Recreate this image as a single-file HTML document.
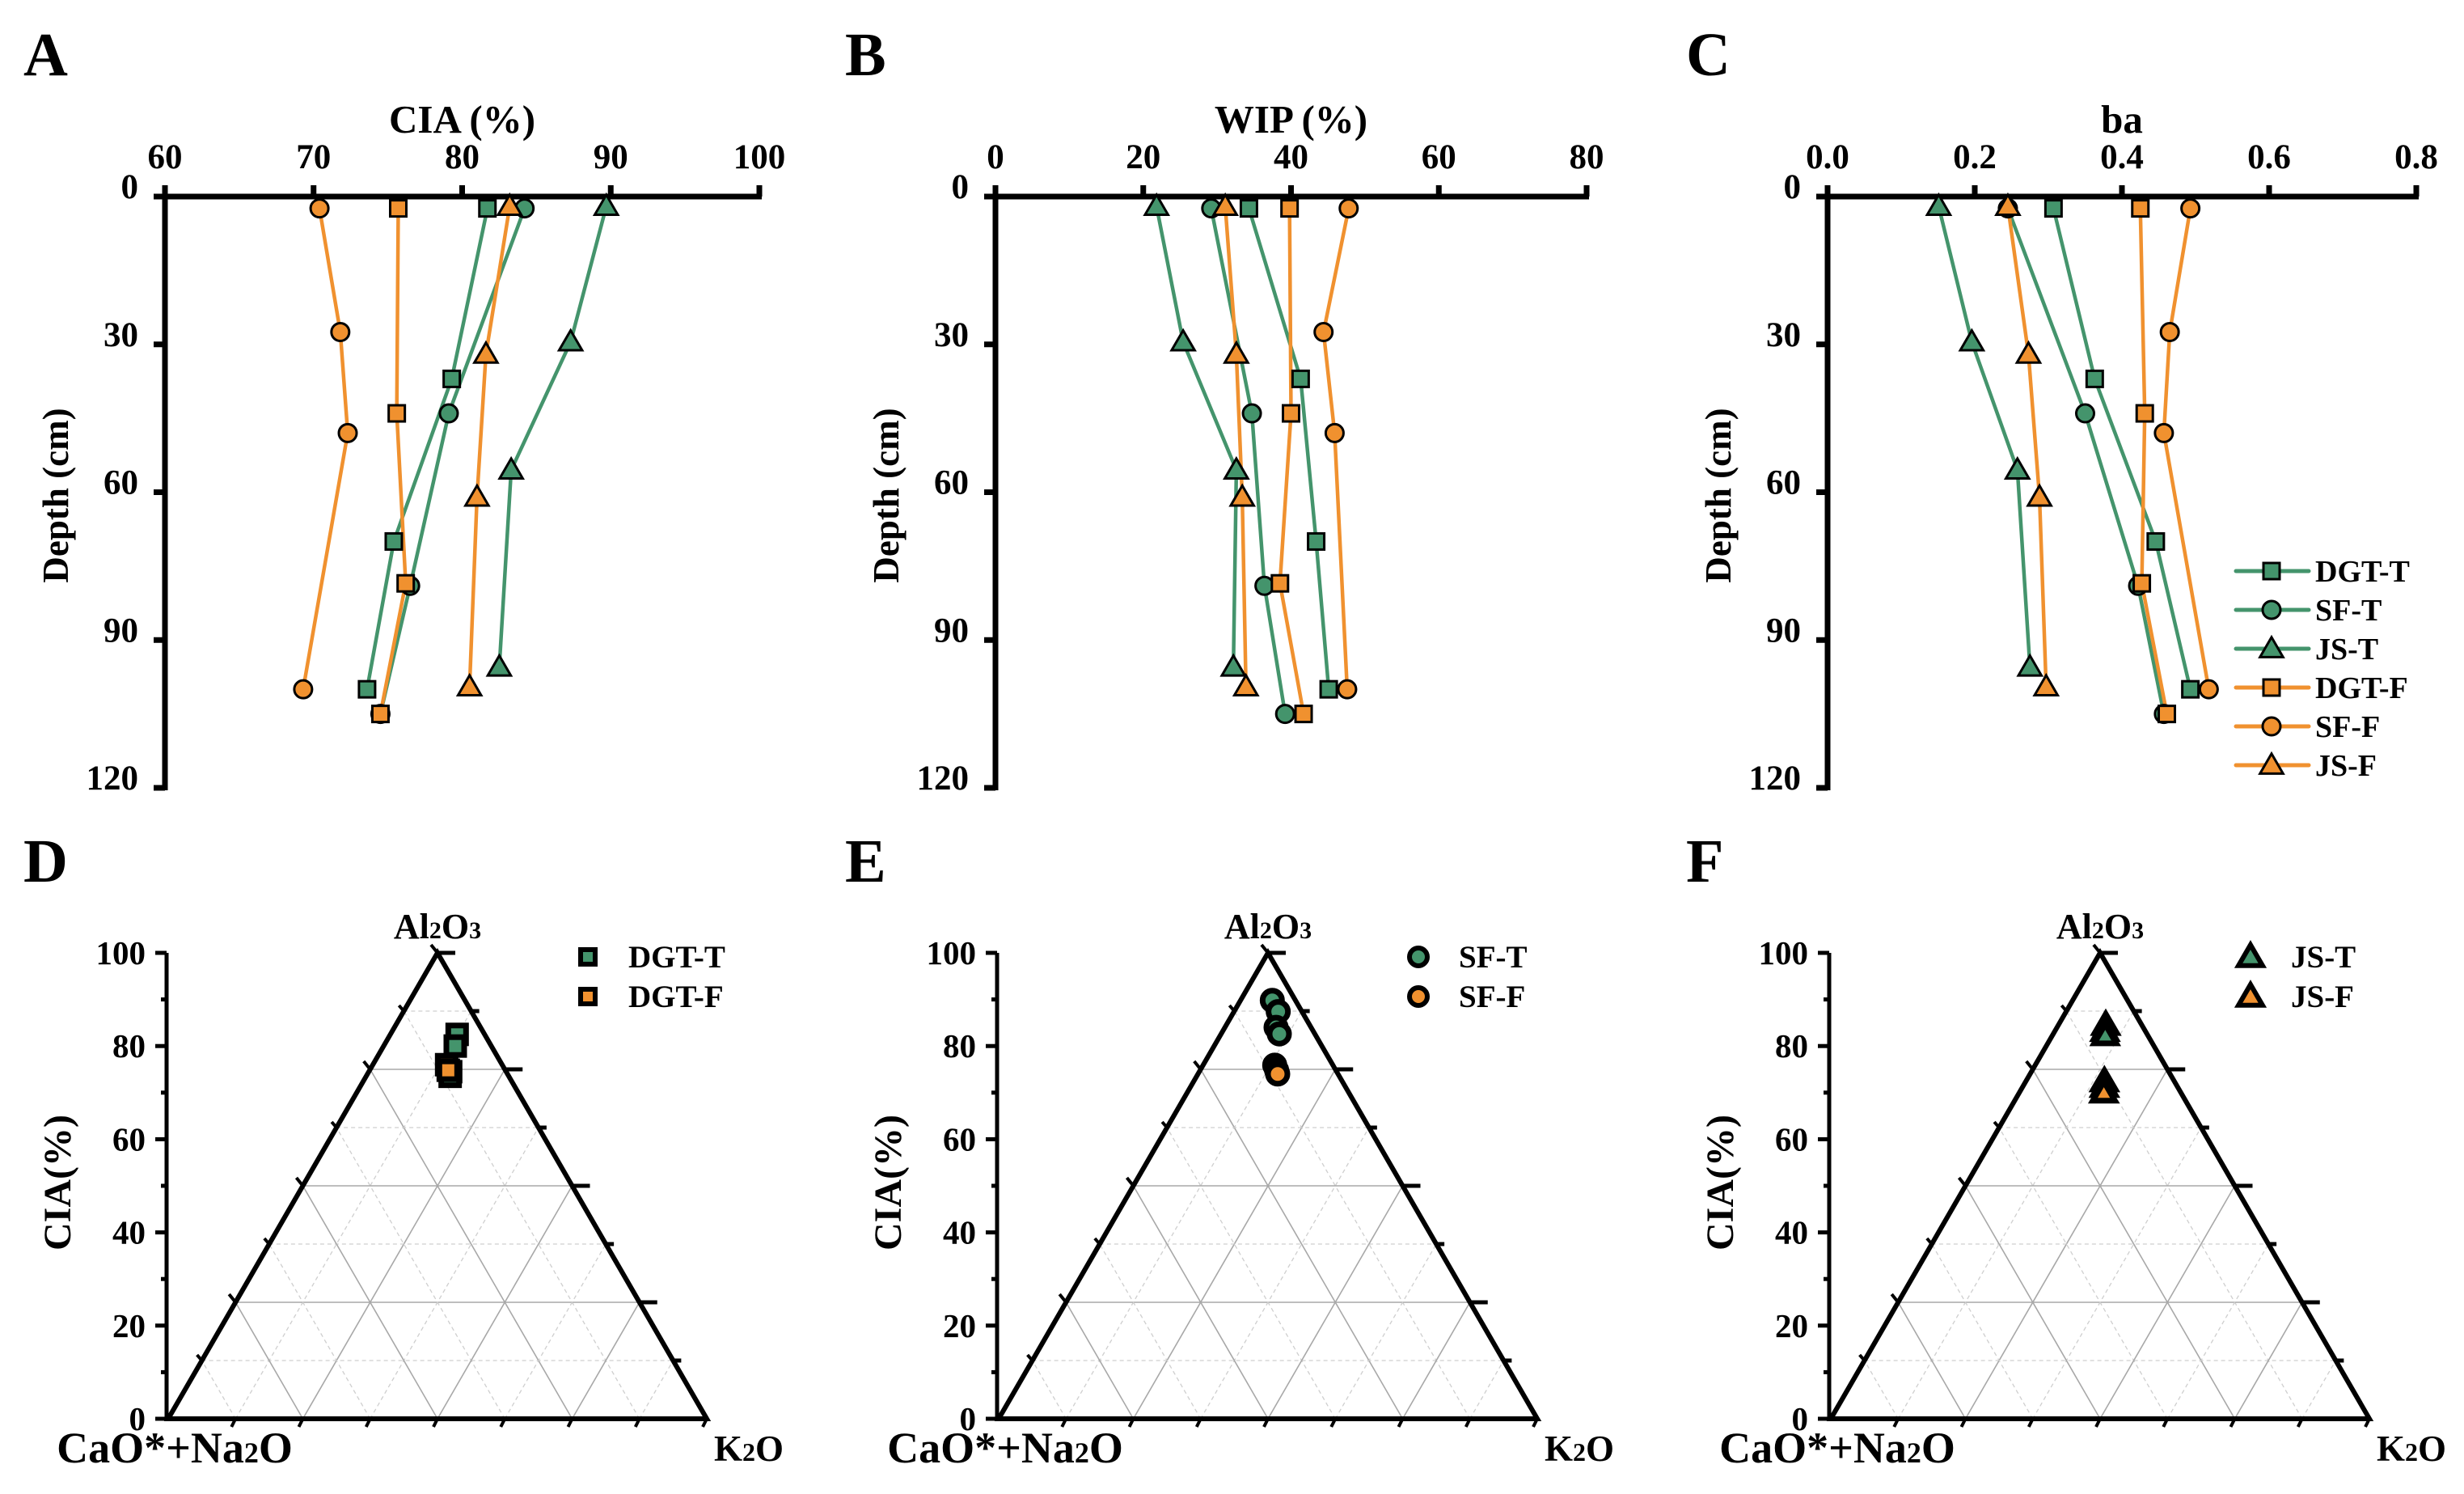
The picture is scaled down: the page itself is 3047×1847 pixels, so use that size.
<!DOCTYPE html>
<html><head><meta charset="utf-8"><style>
html,body{margin:0;padding:0;background:#fff;}
svg{display:block;font-family:"Liberation Serif",serif;font-weight:bold;}
</style></head><body>
<svg id="fig" width="3047" height="1847" viewBox="0 0 3047 1847" xmlns="http://www.w3.org/2000/svg">
<rect width="3047" height="1847" fill="#fff"/>
<g id="root"></g>
</svg>
<script>
// ---- depth-profile data ----
const seriesNames = ["DGT-T","SF-T","JS-T","DGT-F","SF-F","JS-F"];
const seriesColors = ["#44946c","#44946c","#44946c","#f0912f","#f0912f","#f0912f"];
const seriesMarkers = ["square","circle","triangle","square","circle","triangle"];
const depthDGTT = [2.4,37,70,100];
const depthSFT  = [2.4,44,79,105];
const depthJST  = [2,29.5,55.5,95.5];
const depthDGTF = [2.4,44,78.5,105];
const depthSFF  = [2.4,27.5,48,100];
const depthJSF  = [2,32,61,99.5];
const ciaDGTT = [81.7,79.3,75.4,73.6];
const ciaSFT  = [84.2,79.1,76.5,74.5];
const ciaJST  = [89.7,87.3,83.3,82.5];
const ciaDGTF = [75.7,75.6,76.2,74.5];
const ciaSFF  = [70.4,71.8,72.3,69.3];
const ciaJSF  = [83.2,81.6,81.0,80.5];
const wipDGTT = [34.3,41.3,43.4,45.1];
const wipSFT  = [29.2,34.7,36.4,39.2];
const wipJST  = [21.8,25.4,32.6,32.2];
const wipDGTF = [39.8,40.0,38.5,41.7];
const wipSFF  = [47.8,44.4,45.9,47.6];
const wipJSF  = [31.1,32.6,33.4,33.9];
const baDGTT = [0.307,0.363,0.446,0.493];
const baSFT  = [0.245,0.350,0.422,0.457];
const baJST  = [0.151,0.196,0.258,0.275];
const baDGTF = [0.425,0.431,0.427,0.461];
const baSFF  = [0.493,0.465,0.457,0.518];
const baJSF  = [0.245,0.273,0.288,0.297];
const ciaTicks = ["60","70","80","90","100"];
const wipTicks = ["0","20","40","60","80"];
const baTicks = ["0.0","0.2","0.4","0.6","0.8"];
const depthTicks = ["0","30","60","90","120"];
// ---- ternary data (CIA = Al2O3 %, K = K2O %) ----
const ternDGTTcia = [82.5,80.0,74.5,73.5];
const ternDGTTk   = [12.4,13.3,15.2,15.6];
const ternDGTFcia = [76.0,74.8];
const ternDGTFk   = [13.7,14.6];
const ternSFTcia  = [89.8,87.4,84.0,82.6];
const ternSFTk    = [5.9,8.2,9.5,10.8];
const ternSFFcia  = [75.9,74.8,74.0];
const ternSFFk    = [13.3,14.2,14.8];
const ternJSTcia  = [84.5,83.2,82.3];
const ternJSTk    = [8.8,9.3,9.8];
const ternJSFcia  = [72.4,71.2,70.0];
const ternJSFk    = [14.6,15.2,15.7];
const ternTicks = ["0","20","40","60","80","100"];

const NS="http://www.w3.org/2000/svg";
const root=document.getElementById('root');
function mk(tag,attrs,parent){const e=document.createElementNS(NS,tag);for(const k in attrs)e.setAttribute(k,attrs[k]);(parent||root).appendChild(e);return e;}
function txt(x,y,s,size,anchor,parent){const t=mk('text',{x:x,y:y,'font-size':size,'text-anchor':anchor||'middle',fill:'#000'},parent);t.textContent=s;return t;}

function marker(g,type,cx,cy,fill,size,sw){
  let e;
  if(type==='square'){e=mk('rect',{x:cx-size/2,y:cy-size/2,width:size,height:size,fill:fill,stroke:'#000','stroke-width':sw},g);}
  else if(type==='circle'){e=mk('circle',{cx:cx,cy:cy,r:size/2+1,fill:fill,stroke:'#000','stroke-width':sw},g);}
  else{const h=size*1.0;e=mk('polygon',{points:`${cx},${cy-h*0.62} ${cx+size*0.62},${cy+h*0.45} ${cx-size*0.62},${cy+h*0.45}`,fill:fill,stroke:'#000','stroke-width':sw,'stroke-linejoin':'miter'},g);}
  return e;
}

// ----- depth panels -----
const yTop=243, yBot=974;
function depthPanel(name,letter,letterX,x0,x1,vmin,vmax,ticks,title,series,depths){
  const g=mk('g',{});
  
  
  const sx=v=>x0+(v-vmin)/(vmax-vmin)*(x1-x0);
  const sy=d=>yTop+d/120*(yBot-yTop);
  const L=txt(letterX,93,letter,76,'start',g);
  
  
  const T=txt((x0+x1)/2,164,title,49,'middle',g);
  
  
  const Y=txt(0,0,'Depth (cm)',45,'middle',g);
  Y.setAttribute('transform',`translate(${x0-120},${(yTop+yBot)/2+4}) rotate(-90)`);
  
  
  mk('line',{x1:x0,y1:yTop,x2:x1+3,y2:yTop,stroke:'#000','stroke-width':7},g);
  mk('line',{x1:x0,y1:yTop-14,x2:x0,y2:yBot+3,stroke:'#000','stroke-width':7},g);
  ticks.forEach((t,i)=>{
    const v=vmin+i*(vmax-vmin)/(ticks.length-1);
    const x=sx(v);
    mk('line',{x1:x,y1:yTop-14,x2:x,y2:yTop,stroke:'#000','stroke-width':7},g);
    const tl=txt(x,208,t,43,'middle',g);
    
    
  });
  depthTicks.forEach((t,i)=>{
    const y=sy(+t);
    mk('line',{x1:x0-14,y1:y,x2:x0,y2:y,stroke:'#000','stroke-width':7},g);
    const tl=txt(x0-33,y+2,t,43,'end',g);
    
    
  });
  series.forEach((vals,s)=>{
    const d=depths[s];
    const pts=vals.map((v,i)=>`${sx(v)},${sy(d[i])}`).join(' ');
    const pl=mk('polyline',{points:pts,fill:'none',stroke:seriesColors[s],'stroke-width':4.5},g);
    
    
  });
  series.forEach((vals,s)=>{
    const d=depths[s];
    vals.forEach((v,i)=>{
      const m=marker(g,seriesMarkers[s],sx(v),sy(d[i]),seriesColors[s],seriesMarkers[s]==='triangle'?23:20,3);
      
      
    });
  });
  return g;
}
const depths=[depthDGTT,depthSFT,depthJST,depthDGTF,depthSFF,depthJSF];
depthPanel('panel-a-cia-depth','A',29,204,939,60,100,ciaTicks,'CIA (%)',[ciaDGTT,ciaSFT,ciaJST,ciaDGTF,ciaSFF,ciaJSF],depths);
depthPanel('panel-b-wip-depth','B',1045,1231,1962,0,80,wipTicks,'WIP (%)',[wipDGTT,wipSFT,wipJST,wipDGTF,wipSFF,wipJSF],depths);
depthPanel('panel-c-ba-depth','C',2085,2260,2988,0,0.8,baTicks,'ba',[baDGTT,baSFT,baJST,baDGTF,baSFF,baJSF],depths);

const lg=mk('g',{});


seriesNames.forEach((n,i)=>{
  const y=706+i*48;
  const e=mk('g',{},lg);
  
  
  mk('line',{x1:2765,y1:y,x2:2855,y2:y,stroke:seriesColors[i],'stroke-width':5,'stroke-linecap':'round'},e);
  marker(e,seriesMarkers[i],2809,y,seriesColors[i],seriesMarkers[i]==='triangle'?23:20,3);
  txt(2863,y+13,n,38,'start',e);
});

// ----- ternary panels -----
const TB=1754, TH=576, TW=666;
function ternPanel(name,letter,letterX,L,sets){
  const g=mk('g',{});
  
  
  const R=L+TW, A=L+TW/2, top=TB-TH;
  const P=(a,k)=>[L+(k/100+a/200)*TW, TB-a/100*TH];
  const Lt=txt(letterX,1090,letter,76,'start',g);
  
  
  for(let k=1;k<8;k++){
    const f=k/8, solid=k%2===0;
    const st=solid?{stroke:'#a8a8a8','stroke-width':1.6}:{stroke:'#cfcfcf','stroke-width':1.3,'stroke-dasharray':'5,4'};
    let a=P(f*100,0), b=P(f*100,100-f*100);
    mk('line',Object.assign({x1:a[0],y1:a[1],x2:b[0],y2:b[1]},st),g);
    a=P(0,f*100); b=P(100-f*100,f*100);
    mk('line',Object.assign({x1:a[0],y1:a[1],x2:b[0],y2:b[1]},st),g);
    a=P(0,100-f*100); b=P(100-f*100,0);
    mk('line',Object.assign({x1:a[0],y1:a[1],x2:b[0],y2:b[1]},st),g);
  }
  for(let k=1;k<=8;k++){
    const f=k/8, big=k%2===0;
    let p=P(f*100,100-f*100);
    mk('line',{x1:p[0],y1:p[1],x2:p[0]+(big?22:10),y2:p[1],stroke:'#000','stroke-width':5},g);
    p=P(f*100,0);
    mk('line',{x1:p[0],y1:p[1],x2:p[0]-(big?8:6),y2:p[1]-(big?10:7),stroke:'#000','stroke-width':4},g);
    p=P(0,f*100);
    mk('line',{x1:p[0],y1:p[1],x2:p[0]-5,y2:p[1]+10,stroke:'#000','stroke-width':4},g);
  }
  const tri=mk('polygon',{points:`${L},${TB} ${A},${top} ${R},${TB}`,fill:'none',stroke:'#000','stroke-width':6,'stroke-linejoin':'miter'},g);
  
  
  mk('line',{x1:L-2,y1:TB+3,x2:L-2,y2:top,stroke:'#000','stroke-width':5},g);
  for(let v=0;v<=100;v+=10){
    const y=TB-v/100*TH, big=v%20===0;
    mk('line',{x1:L-2-(big?14:7),y1:y,x2:L-2,y2:y,stroke:'#000','stroke-width':5},g);
  }
  ternTicks.forEach(t=>{
    const y=TB-(+t)/100*TH;
    const tl=txt(L-28,y+14,t,41,'end',g);
    
    
  });
  const yt=txt(0,0,'CIA(%)',48,'middle',g);
  yt.setAttribute('transform',`translate(${L-121},${TB-TH/2-4}) rotate(-90)`);
  
  
  const al=mk('text',{x:A,y:top-18,'font-size':44,'text-anchor':'middle'},g);
  al.innerHTML='Al<tspan font-size="30">2</tspan>O<tspan font-size="30">3</tspan>';
  
  
  const cn=mk('text',{x:L+8,y:TB+54,'font-size':54,'text-anchor':'middle'},g);
  cn.innerHTML='CaO*+Na<tspan font-size="36">2</tspan>O';
  
  
  const ko=mk('text',{x:R+52,y:TB+52,'font-size':45,'text-anchor':'middle'},g);
  ko.innerHTML='K<tspan font-size="32">2</tspan>O';
  
  
  sets.forEach((s,si)=>{
    s.cia.forEach((a,i)=>{
      const p=P(a,s.k[i]);
      const m=marker(g,s.marker,p[0],p[1],s.color,22,7);
      
      
    });
    const ly=1183+si*49;
    const lx=L+519;
    const le=mk('g',{},g);
    
    
    marker(le,s.marker,lx,ly,s.color,s.marker==='circle'?20:(s.marker==='triangle'?24:18),6);
    txt(lx+50,ly+13,s.name,39,'start',le);
  });
}
ternPanel('panel-d-ternary-dgt','D',29,208,[
  {name:'DGT-T',cia:ternDGTTcia,k:ternDGTTk,marker:'square',color:'#44946c'},
  {name:'DGT-F',cia:ternDGTFcia,k:ternDGTFk,marker:'square',color:'#f0912f'}]);
ternPanel('panel-e-ternary-sf','E',1045,1235,[
  {name:'SF-T',cia:ternSFTcia,k:ternSFTk,marker:'circle',color:'#44946c'},
  {name:'SF-F',cia:ternSFFcia,k:ternSFFk,marker:'circle',color:'#f0912f'}]);
ternPanel('panel-f-ternary-js','F',2085,2264,[
  {name:'JS-T',cia:ternJSTcia,k:ternJSTk,marker:'triangle',color:'#44946c'},
  {name:'JS-F',cia:ternJSFcia,k:ternJSFk,marker:'triangle',color:'#f0912f'}]);
</script>
</body></html>
